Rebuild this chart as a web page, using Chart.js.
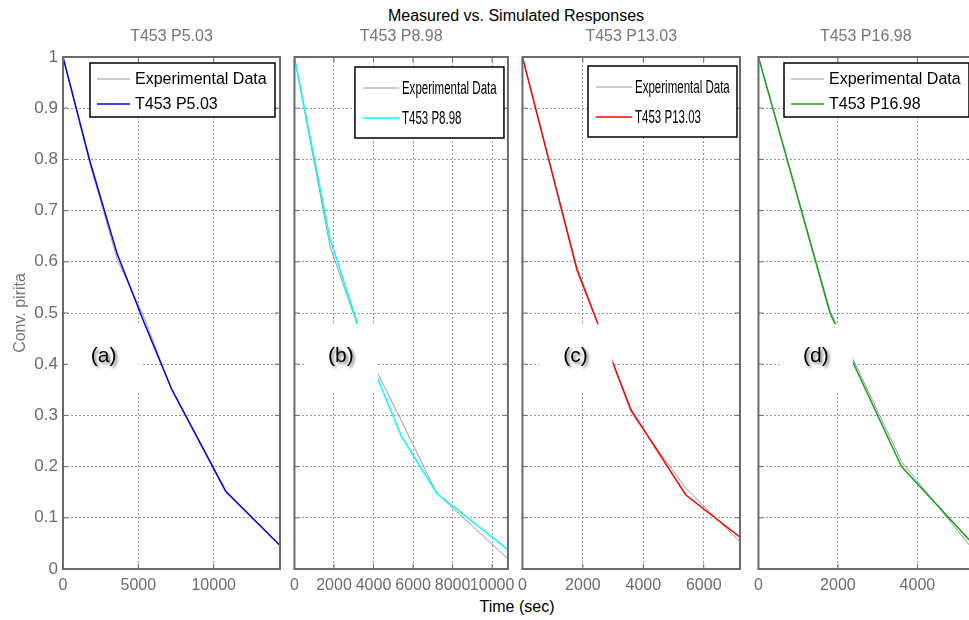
<!DOCTYPE html>
<html lang="en">
<head>
<meta charset="UTF-8" />
<title>Measured vs. Simulated Responses</title>
<style>
  body {
    margin: 0;
    width: 969px;
    height: 620px;
    overflow: hidden;
    position: relative;
    background: #fff;
    font-family: Arial, "Liberation Sans", sans-serif;
  }
  .panel { position: absolute; top: 0; }
  .txt {
    position: absolute;
    color: #000;
    font-size: 16px;
    white-space: nowrap;
    transform: translate(-50%, -50%);
  }
</style>
</head>
<body>
<div class="txt" style="left:516px; top:16px">Measured vs. Simulated Responses</div>
<div class="txt" style="left:517px; top:607px">Time (sec)</div>

<canvas class="panel" id="cA" width="290" height="620" style="left:0px"></canvas>
<canvas class="panel" id="cB" width="239" height="620" style="left:283px"></canvas>
<canvas class="panel" id="cC" width="239" height="620" style="left:511px"></canvas>
<canvas class="panel" id="cD" width="236" height="620" style="left:747px"></canvas>

<script src="https://cdn.jsdelivr.net/npm/chart.js@4"></script>
<script>
  // time in seconds, conversion fraction
  const timeA = [0, 1800, 3600, 5400, 7200, 10800, 14400];
  const expA = [1, 0.79, 0.605, 0.49, 0.35, 0.15, 0.045];
  const simA = [1, 0.795, 0.615, 0.48, 0.352, 0.152, 0.046];

  const timeB = [0, 1800, 3600, 5400, 7200, 10800];
  const expB = [1, 0.63, 0.43, 0.29, 0.148, 0.02];
  const simB = [1, 0.645, 0.43, 0.26, 0.148, 0.038];

  const timeC = [0, 1800, 3600, 5400, 7200];
  const expC = [1, 0.59, 0.305, 0.158, 0.053];
  const simC = [1, 0.585, 0.31, 0.145, 0.062];

  const timeD = [0, 1800, 3600, 5400];
  const expD = [1, 0.505, 0.21, 0.038];
  const simD = [1, 0.5, 0.2, 0.049];

  const titles = ["T453 P5.03", "T453 P8.98", "T453 P13.03", "T453 P16.98"];
  const tags = ["(a)", "(b)", "(c)", "(d)"];
  const xMaxes = [14400, 10800, 7200, 5400];
  const xTicks = [
    [0, 5000, 10000],
    [0, 2000, 4000, 6000, 8000, 10000],
    [0, 2000, 4000, 6000],
    [0, 2000, 4000],
  ];
  const yTicks = [0, 0.1, 0.2, 0.3, 0.4, 0.5, 0.6, 0.7, 0.8, 0.9, 1];

  const FONT = 'Arial, "Liberation Sans", sans-serif';
  Chart.defaults.font.family = FONT;
  Chart.defaults.animation = false;

  // legend box layouts: normal and squeezed
  const legWide = { w: 185, h: 54, rows: [16, 41], l1: 7, l2: 40, tx: 45, size: 16, sx: 1 };
  const legNarrow = { w: 149, h: 71, rows: [21, 51], l1: 8, l2: 44, tx: 47, size: 18, sx: 0.64 };

  const decor = {
    id: "decor",
    afterDraw(chart) {
      const o = chart.options.plugins.decor;
      const ctx = chart.ctx;
      const a = chart.chartArea;
      const xs = chart.scales.x, ys = chart.scales.y;
      ctx.save();

      // subplot title
      ctx.fillStyle = "#777";
      ctx.font = "16px " + FONT;
      ctx.textAlign = "center";
      ctx.textBaseline = "middle";
      ctx.fillText(o.title, (a.left + a.right) / 2, 37);

      // white tag box with (a)...(d)
      const cx = xs.getPixelForValue(o.tagT);
      const cy = ys.getPixelForValue(0.412);
      ctx.fillStyle = "#fff";
      ctx.fillRect(cx - 36, cy - 34, 73, 68);
      ctx.save();
      ctx.shadowColor = "rgba(0,0,0,0.55)";
      ctx.shadowBlur = 3;
      ctx.shadowOffsetX = 2;
      ctx.shadowOffsetY = 2;
      ctx.fillStyle = "#000";
      ctx.font = "21px " + FONT;
      ctx.fillText(o.tag, cx, cy - 2);
      ctx.restore();

      // axes box
      ctx.strokeStyle = "#6a6a6a";
      ctx.lineWidth = 2;
      ctx.strokeRect(a.left, a.top, a.right - a.left, a.bottom - a.top);

      // inward ticks
      ctx.lineWidth = 1;
      ctx.beginPath();
      ys.ticks.forEach((t) => {
        const y = ys.getPixelForValue(t.value);
        ctx.moveTo(a.left, y); ctx.lineTo(a.left + 5, y);
        ctx.moveTo(a.right, y); ctx.lineTo(a.right - 5, y);
      });
      xs.ticks.forEach((t) => {
        const x = xs.getPixelForValue(t.value);
        ctx.moveTo(x, a.bottom); ctx.lineTo(x, a.bottom - 5);
        ctx.moveTo(x, a.top); ctx.lineTo(x, a.top + 5);
      });
      ctx.stroke();

      // legend
      const lg = o.legend;
      const x0 = a.right - o.legDx - lg.w, y0 = a.top + o.legDy;
      ctx.fillStyle = "#fff";
      ctx.fillRect(x0, y0, lg.w, lg.h);
      ctx.strokeStyle = "#000";
      ctx.lineWidth = 1.5;
      ctx.strokeRect(x0, y0, lg.w, lg.h);
      const items = [chart.data.datasets[1], chart.data.datasets[0]];
      items.forEach((ds, i) => {
        const y = y0 + lg.rows[i];
        ctx.strokeStyle = ds.borderColor;
        ctx.lineWidth = ds.borderWidth;
        ctx.beginPath();
        ctx.moveTo(x0 + lg.l1, y);
        ctx.lineTo(x0 + lg.l2, y);
        ctx.stroke();
        ctx.save();
        ctx.translate(x0 + lg.tx, y);
        ctx.scale(lg.sx, 1);
        ctx.fillStyle = "#000";
        ctx.font = lg.size + "px " + FONT;
        ctx.textAlign = "left";
        ctx.textBaseline = "middle";
        ctx.fillText(ds.label, 0, 1);
        ctx.restore();
      });
      ctx.restore();
    },
  };

  function toPoints(t, v) {
    return t.map((x, i) => ({ x: x, y: v[i] }));
  }

  function makePanel(id, n, times, exp, sim, color, cfg) {
    const first = n === 0;
    new Chart(document.getElementById(id), {
      type: "line",
      data: {
        datasets: [
          {
            label: titles[n],
            data: toPoints(times, sim),
            borderColor: color,
            borderWidth: 1.5,
            pointRadius: 0,
          },
          {
            label: "Experimental Data",
            data: toPoints(times, exp),
            borderColor: "#9a9a9a",
            borderWidth: 1,
            pointRadius: 0,
          },
        ],
      },
      options: {
        responsive: false,
        layout: { padding: { left: 0, right: 10, top: 57, bottom: 0 } },
        scales: {
          x: {
            type: "linear",
            min: 0,
            max: xMaxes[n],
            afterFit: (s) => { s.height = 51; },
            afterBuildTicks: (s) => { s.ticks = xTicks[n].map((v) => ({ value: v })); },
            border: { display: false, dash: [2, 2] },
            grid: { color: "#9a9a9a", drawTicks: false },
            ticks: {
              color: "#6b6b6b",
              font: { size: 16 },
              padding: 7,
              maxRotation: 0,
              autoSkip: false,
              callback: (v) => String(v),
            },
          },
          y: {
            min: 0,
            max: 1,
            afterFit: (s) => { s.width = first ? 63 : 10; },
            afterBuildTicks: (s) => { s.ticks = yTicks.map((v) => ({ value: v })); },
            border: { display: false, dash: [2, 2] },
            grid: { color: "#9a9a9a", drawTicks: false },
            title: {
              display: first,
              text: "Conv. pirita",
              color: "#777",
              font: { size: 16 },
              padding: { top: 11, bottom: 0 },
            },
            ticks: {
              display: first,
              color: "#6b6b6b",
              font: { size: 17 },
              padding: 5,
              callback: (v) => String(+v.toFixed(1)),
            },
          },
        },
        plugins: {
          legend: { display: false },
          tooltip: { enabled: false },
          decor: {
            title: titles[n],
            tag: tags[n],
            tagT: cfg.tagT,
            legend: cfg.legend,
            legDx: cfg.legDx,
            legDy: cfg.legDy,
          },
        },
      },
      plugins: [decor],
    });
  }

  makePanel("cA", 0, timeA, expA, simA, "#0000ff", { tagT: 2700, legend: legWide, legDx: 5, legDy: 6 });
  makePanel("cB", 1, timeB, expB, simB, "#00ffff", { tagT: 2350, legend: legNarrow, legDx: 4, legDy: 10 });
  makePanel("cC", 2, timeC, expC, simC, "#ff0000", { tagT: 1754, legend: legNarrow, legDx: 3, legDy: 9 });
  makePanel("cD", 3, timeD, expD, simD, "#1aa31a", { tagT: 1445, legend: legWide, legDx: 4, legDy: 6 });
</script>
</body>
</html>
